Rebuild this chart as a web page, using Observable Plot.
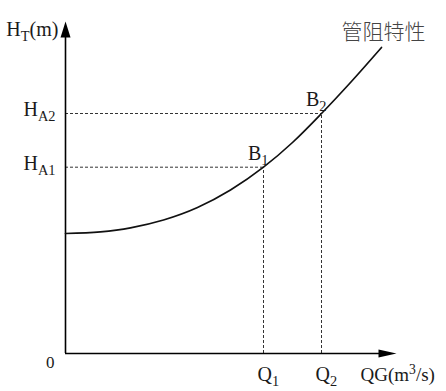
<!DOCTYPE html>
<html>
<head>
<meta charset="utf-8">
<script src="https://cdn.jsdelivr.net/npm/d3@7"></script>
<script src="https://cdn.jsdelivr.net/npm/@observablehq/plot@0.6"></script>
<style>
  html, body { margin: 0; padding: 0; background: #fff; }
  #chart svg { display: block; }
</style>
</head>
<body>
<div id="chart"></div>
<script>
// ---- data ----
const curveQ = [0, 3.5, 6.5, 9.8, 13.2, 16.5, 19.8, 22.7, 25.6, 28.5, 31.6];
const curveH = [12.0, 12.17, 12.57, 13.35, 14.6, 16.35, 18.63, 21.1, 24.0, 27.1, 30.6];
const opQ = [19.8, 25.6];           // Q1, Q2
const opH = [18.63, 24.0];          // HA1, HA2
const opLabels = ["B_{1}", "B_{2}"];
const qLabels = ["Q_{1}", "Q_{2}"];
const hLabels = ["H_{A1}", "H_{A2}"];
const axisMax = {q: 33.1, h: 33.2};
const xTitle = "QG(m^{3}/s)";
const yTitle = "H_{T}(m)";
const curveTitle = "管阻特性";
const originLabel = "0";

// ---- tables ----
const curve = curveQ.map((q, i) => ({q, h: curveH[i]}));
const ops = opQ.map((q, i) => ({q, h: opH[i], b: opLabels[i], ql: qLabels[i], hl: hLabels[i]}));
const last = curve[curve.length - 1];

const upArrow = {draw(ctx) { ctx.moveTo(0, 0); ctx.lineTo(-5, 16); ctx.lineTo(5, 16); ctx.closePath(); }};
const rightArrow = {draw(ctx) { ctx.moveTo(0, 0); ctx.lineTo(-18, -4); ctx.lineTo(-18, 4); ctx.closePath(); }};

const serif = "'Liberation Serif', 'DejaVu Serif', serif";
const ink = "#1a1a1a";

const chart = Plot.plot({
  width: 446,
  height: 391,
  marginLeft: 65,
  marginRight: 50,
  marginTop: 21,
  marginBottom: 38,
  x: {domain: [0, axisMax.q], axis: null},
  y: {domain: [0, axisMax.h], axis: null},
  style: {fontFamily: serif, background: "white", overflow: "visible"},
  marks: [
    // dashed guide lines
    Plot.ruleY(ops, {y: "h", x1: 0, x2: "q", stroke: "#333", strokeWidth: 1, strokeDasharray: "3,2"}),
    Plot.ruleX(ops, {x: "q", y1: 0, y2: "h", stroke: "#333", strokeWidth: 1, strokeDasharray: "3,2"}),
    // axes
    Plot.ruleX([0], {y1: 0, y2: axisMax.h - 1.2, stroke: "black", strokeWidth: 1.6}),
    Plot.ruleY([0], {x1: 0, x2: axisMax.q - 1.5, stroke: "black", strokeWidth: 1.3}),
    Plot.dot([{q: 0, h: axisMax.h}], {x: "q", y: "h", symbol: upArrow, fill: "black", stroke: "none", r: 5}),
    Plot.dot([{q: axisMax.q, h: 0}], {x: "q", y: "h", symbol: rightArrow, fill: "black", stroke: "none", r: 5}),
    // characteristic curve
    Plot.line(curve, {x: "q", y: "h", curve: "monotone-x", stroke: "#111", strokeWidth: 1.7}),
    // labels
    Plot.text(ops, {x: 0, y: "h", text: "hl", textAnchor: "end", dx: -10, dy: -3.5, fontSize: 20, fill: ink}),
    Plot.text(ops, {x: "q", y: "h", text: "b", textAnchor: "end", dx: 5, dy: -14, fontSize: 20, fill: ink}),
    Plot.text(ops, {x: "q", y: 0, text: "ql", textAnchor: "start", dx: -6, dy: 21.5, fontSize: 20, fill: ink}),
    Plot.text([{q: axisMax.q, h: 0}], {x: "q", y: "h", text: () => xTitle, textAnchor: "start", dx: -36, dy: 21.5, fontSize: 19, fill: ink}),
    Plot.text([{q: 0, h: axisMax.h}], {x: "q", y: "h", text: () => yTitle, textAnchor: "end", dx: -7, dy: 8, fontSize: 20, fill: ink}),
    Plot.text([{q: 0, h: 0}], {x: "q", y: "h", text: () => originLabel, textAnchor: "end", dx: -11, dy: 9.5, fontSize: 17, fill: ink}),
    Plot.text([last], {x: "q", y: "h", text: () => curveTitle, textAnchor: "middle", dx: 2, dy: -15, fontSize: 21, fill: "#444", fontFamily: "'Noto Sans CJK SC', sans-serif", fontWeight: 300})
  ]
});

// turn _{..} and ^{..} into real sub/superscript tspans
function richify(svg) {
  svg.querySelectorAll("text").forEach(t => {
    const nodes = t.querySelectorAll("tspan").length ? Array.from(t.querySelectorAll("tspan")) : [t];
    nodes.forEach(n => {
      const s = n.textContent;
      if (!/[_^]\{/.test(s)) return;
      n.textContent = "";
      const re = /([_^])\{([^}]*)\}|([^_^]+)/g;
      let m, shift = 0;
      while ((m = re.exec(s))) {
        const ts = document.createElementNS("http://www.w3.org/2000/svg", "tspan");
        if (m[1]) {
          const d = m[1] === "_" ? 5 : -7;
          ts.setAttribute("dy", d - shift);
          ts.setAttribute("font-size", "0.72em");
          ts.textContent = m[2];
          shift = d;
        } else {
          if (shift) ts.setAttribute("dy", -shift);
          ts.textContent = m[3];
          shift = 0;
        }
        n.appendChild(ts);
      }
    });
  });
}
richify(chart);
document.getElementById("chart").appendChild(chart);
</script>
</body>
</html>
